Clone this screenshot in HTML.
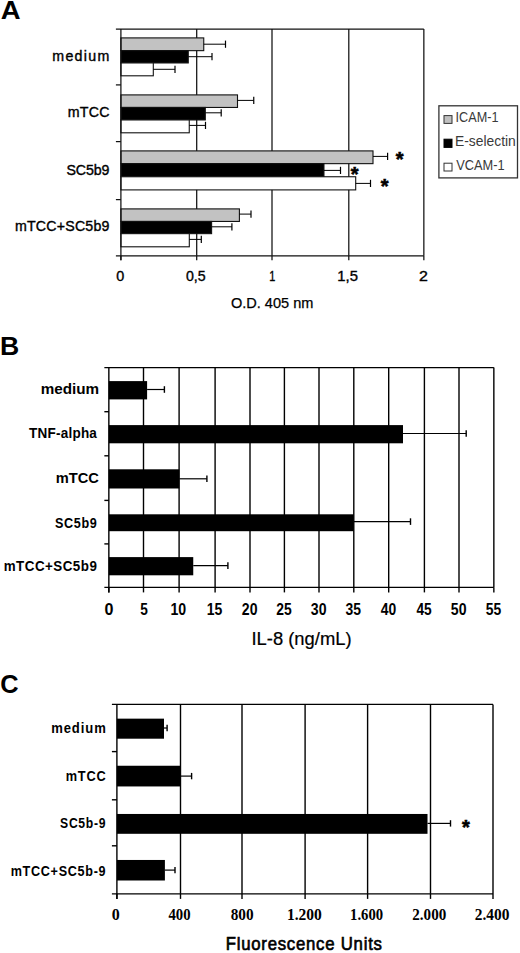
<!DOCTYPE html>
<html><head><meta charset="utf-8"><style>
html,body{margin:0;padding:0;background:#fff;width:520px;height:953px;overflow:hidden;font-family:"Liberation Sans",sans-serif}
svg{display:block}
</style></head><body>
<svg width="520" height="953" viewBox="0 0 520 953">
<rect x="0" y="0" width="520" height="953" fill="#fff"/>
<line x1="196.70" y1="29.00" x2="196.70" y2="255.80" stroke="#111" stroke-width="1.25"/>
<line x1="272.00" y1="29.00" x2="272.00" y2="255.80" stroke="#111" stroke-width="1.25"/>
<line x1="348.80" y1="29.00" x2="348.80" y2="255.80" stroke="#111" stroke-width="1.25"/>
<rect x="120.90" y="37.90" width="82.85" height="12.75" fill="#c2c2c2" stroke="#111" stroke-width="1.1"/>
<line x1="203.75" y1="44.20" x2="225.50" y2="44.20" stroke="#000" stroke-width="1.0"/>
<line x1="225.50" y1="40.60" x2="225.50" y2="47.80" stroke="#000" stroke-width="1.2"/>
<rect x="120.90" y="50.65" width="67.35" height="12.30" fill="#000000" stroke="#111" stroke-width="1.1"/>
<line x1="188.25" y1="56.70" x2="212.00" y2="56.70" stroke="#000" stroke-width="1.0"/>
<line x1="212.00" y1="53.10" x2="212.00" y2="60.30" stroke="#000" stroke-width="1.2"/>
<rect x="120.90" y="62.95" width="32.40" height="12.85" fill="#ffffff" stroke="#111" stroke-width="1.1"/>
<line x1="153.30" y1="69.30" x2="175.00" y2="69.30" stroke="#000" stroke-width="1.0"/>
<line x1="175.00" y1="65.70" x2="175.00" y2="72.90" stroke="#000" stroke-width="1.2"/>
<rect x="120.90" y="94.90" width="116.60" height="12.55" fill="#c2c2c2" stroke="#111" stroke-width="1.1"/>
<line x1="237.50" y1="100.40" x2="253.75" y2="100.40" stroke="#000" stroke-width="1.0"/>
<line x1="253.75" y1="96.80" x2="253.75" y2="104.00" stroke="#000" stroke-width="1.2"/>
<rect x="120.90" y="107.45" width="84.40" height="12.50" fill="#000000" stroke="#111" stroke-width="1.1"/>
<line x1="205.30" y1="112.80" x2="221.20" y2="112.80" stroke="#000" stroke-width="1.0"/>
<line x1="221.20" y1="109.20" x2="221.20" y2="116.40" stroke="#000" stroke-width="1.2"/>
<rect x="120.90" y="119.95" width="68.35" height="12.85" fill="#ffffff" stroke="#111" stroke-width="1.1"/>
<line x1="189.25" y1="125.40" x2="205.50" y2="125.40" stroke="#000" stroke-width="1.0"/>
<line x1="205.50" y1="121.80" x2="205.50" y2="129.00" stroke="#000" stroke-width="1.2"/>
<rect x="120.90" y="150.90" width="252.10" height="12.75" fill="#c2c2c2" stroke="#111" stroke-width="1.1"/>
<line x1="373.00" y1="156.40" x2="387.60" y2="156.40" stroke="#000" stroke-width="1.0"/>
<line x1="387.60" y1="152.80" x2="387.60" y2="160.00" stroke="#000" stroke-width="1.2"/>
<rect x="120.90" y="163.65" width="203.05" height="13.10" fill="#000000" stroke="#111" stroke-width="1.1"/>
<line x1="323.95" y1="170.40" x2="340.50" y2="170.40" stroke="#000" stroke-width="1.0"/>
<line x1="340.50" y1="166.80" x2="340.50" y2="174.00" stroke="#000" stroke-width="1.2"/>
<rect x="120.90" y="176.75" width="234.80" height="13.15" fill="#ffffff" stroke="#111" stroke-width="1.1"/>
<line x1="355.70" y1="183.40" x2="370.50" y2="183.40" stroke="#000" stroke-width="1.0"/>
<line x1="370.50" y1="179.80" x2="370.50" y2="187.00" stroke="#000" stroke-width="1.2"/>
<rect x="120.90" y="208.90" width="118.50" height="12.55" fill="#c2c2c2" stroke="#111" stroke-width="1.1"/>
<line x1="239.40" y1="214.10" x2="251.00" y2="214.10" stroke="#000" stroke-width="1.0"/>
<line x1="251.00" y1="210.50" x2="251.00" y2="217.70" stroke="#000" stroke-width="1.2"/>
<rect x="120.90" y="221.45" width="90.70" height="12.20" fill="#000000" stroke="#111" stroke-width="1.1"/>
<line x1="211.60" y1="226.80" x2="231.90" y2="226.80" stroke="#000" stroke-width="1.0"/>
<line x1="231.90" y1="223.20" x2="231.90" y2="230.40" stroke="#000" stroke-width="1.2"/>
<rect x="120.90" y="233.65" width="68.40" height="13.15" fill="#ffffff" stroke="#111" stroke-width="1.1"/>
<line x1="189.30" y1="239.40" x2="201.30" y2="239.40" stroke="#000" stroke-width="1.0"/>
<line x1="201.30" y1="235.80" x2="201.30" y2="243.00" stroke="#000" stroke-width="1.2"/>
<line x1="115.90" y1="29.00" x2="423.85" y2="29.00" stroke="#111" stroke-width="1.25"/>
<line x1="423.85" y1="29.00" x2="423.85" y2="255.80" stroke="#111" stroke-width="1.25"/>
<line x1="120.90" y1="29.00" x2="120.90" y2="260.30" stroke="#111" stroke-width="1.25"/>
<line x1="115.90" y1="255.80" x2="423.85" y2="255.80" stroke="#111" stroke-width="1.25"/>
<line x1="115.90" y1="84.90" x2="120.90" y2="84.90" stroke="#111" stroke-width="1.25"/>
<line x1="115.90" y1="141.60" x2="120.90" y2="141.60" stroke="#111" stroke-width="1.25"/>
<line x1="115.90" y1="199.60" x2="120.90" y2="199.60" stroke="#111" stroke-width="1.25"/>
<line x1="120.90" y1="255.80" x2="120.90" y2="260.30" stroke="#111" stroke-width="1.25"/>
<line x1="196.70" y1="255.80" x2="196.70" y2="260.30" stroke="#111" stroke-width="1.25"/>
<line x1="272.00" y1="255.80" x2="272.00" y2="260.30" stroke="#111" stroke-width="1.25"/>
<line x1="348.80" y1="255.80" x2="348.80" y2="260.30" stroke="#111" stroke-width="1.25"/>
<line x1="423.85" y1="255.80" x2="423.85" y2="260.30" stroke="#111" stroke-width="1.25"/>
<rect x="438.90" y="105.80" width="78.60" height="72.10" fill="#fff" stroke="#333" stroke-width="1.3"/>
<rect x="444.00" y="115.60" width="8.00" height="7.80" fill="#c0c0c0" stroke="#333" stroke-width="1.0"/>
<rect x="444.00" y="139.20" width="8.00" height="8.20" fill="#000" stroke="#000" stroke-width="1.0"/>
<rect x="444.00" y="163.20" width="8.00" height="7.80" fill="#fff" stroke="#333" stroke-width="1.0"/>
<line x1="143.50" y1="367.60" x2="143.50" y2="587.40" stroke="#000" stroke-width="1.4"/>
<line x1="179.10" y1="367.60" x2="179.10" y2="587.40" stroke="#000" stroke-width="1.4"/>
<line x1="215.10" y1="367.60" x2="215.10" y2="587.40" stroke="#000" stroke-width="1.4"/>
<line x1="250.00" y1="367.60" x2="250.00" y2="587.40" stroke="#000" stroke-width="1.4"/>
<line x1="284.40" y1="367.60" x2="284.40" y2="587.40" stroke="#000" stroke-width="1.4"/>
<line x1="319.00" y1="367.60" x2="319.00" y2="587.40" stroke="#000" stroke-width="1.4"/>
<line x1="353.80" y1="367.60" x2="353.80" y2="587.40" stroke="#000" stroke-width="1.4"/>
<line x1="388.70" y1="367.60" x2="388.70" y2="587.40" stroke="#000" stroke-width="1.4"/>
<line x1="424.40" y1="367.60" x2="424.40" y2="587.40" stroke="#000" stroke-width="1.4"/>
<line x1="459.00" y1="367.60" x2="459.00" y2="587.40" stroke="#000" stroke-width="1.4"/>
<rect x="108.85" y="381.10" width="38.25" height="18.30" fill="#000"/>
<line x1="147.10" y1="389.50" x2="164.40" y2="389.50" stroke="#000" stroke-width="1.2"/>
<line x1="164.40" y1="386.20" x2="164.40" y2="392.80" stroke="#000" stroke-width="1.4"/>
<rect x="108.85" y="425.10" width="294.15" height="18.20" fill="#000"/>
<line x1="403.00" y1="433.50" x2="466.20" y2="433.50" stroke="#000" stroke-width="1.2"/>
<line x1="466.20" y1="430.20" x2="466.20" y2="436.80" stroke="#000" stroke-width="1.4"/>
<rect x="108.85" y="469.30" width="70.45" height="19.20" fill="#000"/>
<line x1="179.30" y1="478.80" x2="206.90" y2="478.80" stroke="#000" stroke-width="1.2"/>
<line x1="206.90" y1="475.50" x2="206.90" y2="482.10" stroke="#000" stroke-width="1.4"/>
<rect x="108.85" y="514.30" width="244.90" height="16.90" fill="#000"/>
<line x1="353.75" y1="521.60" x2="410.50" y2="521.60" stroke="#000" stroke-width="1.2"/>
<line x1="410.50" y1="518.30" x2="410.50" y2="524.90" stroke="#000" stroke-width="1.4"/>
<rect x="108.85" y="557.10" width="84.40" height="18.20" fill="#000"/>
<line x1="193.25" y1="565.60" x2="227.90" y2="565.60" stroke="#000" stroke-width="1.2"/>
<line x1="227.90" y1="562.30" x2="227.90" y2="568.90" stroke="#000" stroke-width="1.4"/>
<line x1="104.35" y1="367.60" x2="493.85" y2="367.60" stroke="#000" stroke-width="1.4"/>
<line x1="493.85" y1="367.60" x2="493.85" y2="587.40" stroke="#000" stroke-width="1.4"/>
<line x1="108.85" y1="367.60" x2="108.85" y2="592.40" stroke="#000" stroke-width="1.4"/>
<line x1="104.35" y1="587.40" x2="493.85" y2="587.40" stroke="#000" stroke-width="1.4"/>
<line x1="104.35" y1="411.70" x2="108.85" y2="411.70" stroke="#000" stroke-width="1.4"/>
<line x1="104.35" y1="455.80" x2="108.85" y2="455.80" stroke="#000" stroke-width="1.4"/>
<line x1="104.35" y1="500.40" x2="108.85" y2="500.40" stroke="#000" stroke-width="1.4"/>
<line x1="104.35" y1="543.90" x2="108.85" y2="543.90" stroke="#000" stroke-width="1.4"/>
<line x1="108.85" y1="587.40" x2="108.85" y2="592.40" stroke="#000" stroke-width="1.4"/>
<line x1="143.50" y1="587.40" x2="143.50" y2="592.40" stroke="#000" stroke-width="1.4"/>
<line x1="179.10" y1="587.40" x2="179.10" y2="592.40" stroke="#000" stroke-width="1.4"/>
<line x1="215.10" y1="587.40" x2="215.10" y2="592.40" stroke="#000" stroke-width="1.4"/>
<line x1="250.00" y1="587.40" x2="250.00" y2="592.40" stroke="#000" stroke-width="1.4"/>
<line x1="284.40" y1="587.40" x2="284.40" y2="592.40" stroke="#000" stroke-width="1.4"/>
<line x1="319.00" y1="587.40" x2="319.00" y2="592.40" stroke="#000" stroke-width="1.4"/>
<line x1="353.80" y1="587.40" x2="353.80" y2="592.40" stroke="#000" stroke-width="1.4"/>
<line x1="388.70" y1="587.40" x2="388.70" y2="592.40" stroke="#000" stroke-width="1.4"/>
<line x1="424.40" y1="587.40" x2="424.40" y2="592.40" stroke="#000" stroke-width="1.4"/>
<line x1="459.00" y1="587.40" x2="459.00" y2="592.40" stroke="#000" stroke-width="1.4"/>
<line x1="493.85" y1="587.40" x2="493.85" y2="592.40" stroke="#000" stroke-width="1.4"/>
<line x1="180.50" y1="704.40" x2="180.50" y2="893.90" stroke="#000" stroke-width="1.4"/>
<line x1="242.00" y1="704.40" x2="242.00" y2="893.90" stroke="#000" stroke-width="1.4"/>
<line x1="305.10" y1="704.40" x2="305.10" y2="893.90" stroke="#000" stroke-width="1.4"/>
<line x1="367.60" y1="704.40" x2="367.60" y2="893.90" stroke="#000" stroke-width="1.4"/>
<line x1="430.50" y1="704.40" x2="430.50" y2="893.90" stroke="#000" stroke-width="1.4"/>
<rect x="116.90" y="718.65" width="47.10" height="20.05" fill="#000"/>
<line x1="164.00" y1="728.00" x2="167.10" y2="728.00" stroke="#000" stroke-width="1.2"/>
<line x1="167.10" y1="724.80" x2="167.10" y2="731.20" stroke="#000" stroke-width="1.4"/>
<rect x="116.90" y="765.75" width="63.50" height="20.70" fill="#000"/>
<line x1="180.40" y1="776.10" x2="191.60" y2="776.10" stroke="#000" stroke-width="1.2"/>
<line x1="191.60" y1="772.90" x2="191.60" y2="779.30" stroke="#000" stroke-width="1.4"/>
<rect x="116.90" y="813.97" width="310.60" height="19.83" fill="#000"/>
<line x1="427.50" y1="823.40" x2="450.50" y2="823.40" stroke="#000" stroke-width="1.2"/>
<line x1="450.50" y1="820.20" x2="450.50" y2="826.60" stroke="#000" stroke-width="1.4"/>
<rect x="116.90" y="859.96" width="48.00" height="20.54" fill="#000"/>
<line x1="164.90" y1="870.10" x2="175.00" y2="870.10" stroke="#000" stroke-width="1.2"/>
<line x1="175.00" y1="866.90" x2="175.00" y2="873.30" stroke="#000" stroke-width="1.4"/>
<line x1="111.90" y1="704.40" x2="493.00" y2="704.40" stroke="#000" stroke-width="1.4"/>
<line x1="493.00" y1="704.40" x2="493.00" y2="893.90" stroke="#000" stroke-width="1.4"/>
<line x1="116.90" y1="704.40" x2="116.90" y2="898.90" stroke="#000" stroke-width="1.4"/>
<line x1="111.90" y1="893.90" x2="493.00" y2="893.90" stroke="#000" stroke-width="1.4"/>
<line x1="111.90" y1="751.60" x2="116.90" y2="751.60" stroke="#000" stroke-width="1.4"/>
<line x1="111.90" y1="799.80" x2="116.90" y2="799.80" stroke="#000" stroke-width="1.4"/>
<line x1="111.90" y1="845.80" x2="116.90" y2="845.80" stroke="#000" stroke-width="1.4"/>
<line x1="116.90" y1="893.90" x2="116.90" y2="898.90" stroke="#000" stroke-width="1.4"/>
<line x1="180.50" y1="893.90" x2="180.50" y2="898.90" stroke="#000" stroke-width="1.4"/>
<line x1="242.00" y1="893.90" x2="242.00" y2="898.90" stroke="#000" stroke-width="1.4"/>
<line x1="305.10" y1="893.90" x2="305.10" y2="898.90" stroke="#000" stroke-width="1.4"/>
<line x1="367.60" y1="893.90" x2="367.60" y2="898.90" stroke="#000" stroke-width="1.4"/>
<line x1="430.50" y1="893.90" x2="430.50" y2="898.90" stroke="#000" stroke-width="1.4"/>
<line x1="493.00" y1="893.90" x2="493.00" y2="898.90" stroke="#000" stroke-width="1.4"/>
<text x="399.60" y="166.00" font-family="Liberation Sans, sans-serif" font-size="20" font-weight="bold" text-anchor="middle" stroke="#000" stroke-width="0.6">*</text>
<text x="354.60" y="180.70" font-family="Liberation Sans, sans-serif" font-size="20" font-weight="bold" text-anchor="middle" stroke="#000" stroke-width="0.6">*</text>
<text x="384.70" y="193.40" font-family="Liberation Sans, sans-serif" font-size="20" font-weight="bold" text-anchor="middle" stroke="#000" stroke-width="0.6">*</text>
<text x="466.00" y="833.70" font-family="Liberation Sans, sans-serif" font-size="20" font-weight="bold" text-anchor="middle" stroke="#000" stroke-width="0.6">*</text>
<text id="t0" x="0.69" y="19.00" font-family="Liberation Sans, sans-serif" font-size="25.5" font-weight="bold" fill="#000" textLength="19.83" lengthAdjust="spacingAndGlyphs">A</text>
<text id="t1" x="52.25" y="61.40" font-family="Liberation Sans, sans-serif" font-size="14.2" font-weight="normal" fill="#000" stroke="#000" stroke-width="0.38" textLength="56.97" lengthAdjust="spacing">medium</text>
<text id="t2" x="67.75" y="117.40" font-family="Liberation Sans, sans-serif" font-size="14.2" font-weight="normal" fill="#000" stroke="#000" stroke-width="0.38" textLength="41.68" lengthAdjust="spacing">mTCC</text>
<text id="t3" x="66.50" y="175.00" font-family="Liberation Sans, sans-serif" font-size="14.2" font-weight="normal" fill="#000" stroke="#000" stroke-width="0.38" textLength="42.89" lengthAdjust="spacing">SC5b9</text>
<text id="t4" x="14.95" y="231.00" font-family="Liberation Sans, sans-serif" font-size="14.2" font-weight="normal" fill="#000" stroke="#000" stroke-width="0.38" textLength="94.46" lengthAdjust="spacing">mTCC+SC5b9</text>
<text id="t5" x="116.19" y="281.00" font-family="Liberation Sans, sans-serif" font-size="14.2" font-weight="normal" fill="#000" stroke="#000" stroke-width="0.35" textLength="8.00" lengthAdjust="spacingAndGlyphs">0</text>
<text id="t6" x="186.00" y="281.00" font-family="Liberation Sans, sans-serif" font-size="14.2" font-weight="normal" fill="#000" stroke="#000" stroke-width="0.35" textLength="19.68" lengthAdjust="spacingAndGlyphs">0,5</text>
<text id="t7" x="269.23" y="281.00" font-family="Liberation Sans, sans-serif" font-size="14.2" font-weight="normal" fill="#000" stroke="#000" stroke-width="0.35" textLength="6.07" lengthAdjust="spacingAndGlyphs">1</text>
<text id="t8" x="337.35" y="281.00" font-family="Liberation Sans, sans-serif" font-size="14.2" font-weight="normal" fill="#000" stroke="#000" stroke-width="0.35" textLength="20.65" lengthAdjust="spacingAndGlyphs">1,5</text>
<text id="t9" x="419.14" y="281.00" font-family="Liberation Sans, sans-serif" font-size="14.2" font-weight="normal" fill="#000" stroke="#000" stroke-width="0.35" textLength="8.88" lengthAdjust="spacingAndGlyphs">2</text>
<text id="t10" x="230.90" y="307.70" font-family="Liberation Sans, sans-serif" font-size="14.5" font-weight="normal" fill="#000" stroke="#000" stroke-width="0.25" textLength="82.46" lengthAdjust="spacingAndGlyphs">O.D. 405 nm</text>
<text id="t11" x="455.59" y="121.60" font-family="Liberation Sans, sans-serif" font-size="14.2" font-weight="normal" fill="#3a3a3a" textLength="42.84" lengthAdjust="spacingAndGlyphs">ICAM-1</text>
<text id="t12" x="454.98" y="145.80" font-family="Liberation Sans, sans-serif" font-size="14.2" font-weight="normal" fill="#3a3a3a" textLength="60.84" lengthAdjust="spacingAndGlyphs">E-selectin</text>
<text id="t13" x="456.20" y="170.00" font-family="Liberation Sans, sans-serif" font-size="14.2" font-weight="normal" fill="#3a3a3a" textLength="48.35" lengthAdjust="spacingAndGlyphs">VCAM-1</text>
<text id="t14" x="0.07" y="355.40" font-family="Liberation Sans, sans-serif" font-size="25.5" font-weight="bold" fill="#000" textLength="19.25" lengthAdjust="spacingAndGlyphs">B</text>
<text id="t15" x="40.70" y="394.00" font-family="Liberation Sans, sans-serif" font-size="15.2" font-weight="bold" fill="#000" textLength="58.39" lengthAdjust="spacingAndGlyphs">medium</text>
<g transform="translate(28.98,438.30) scale(0.89,1)"><text id="t16" x="0" y="0" font-family="Liberation Sans, sans-serif" font-size="15.2" font-weight="bold" fill="#000" textLength="76.32" lengthAdjust="spacing">TNF-alpha</text></g>
<text id="t17" x="55.74" y="482.80" font-family="Liberation Sans, sans-serif" font-size="15.2" font-weight="bold" fill="#000" textLength="43.12" lengthAdjust="spacingAndGlyphs">mTCC</text>
<g transform="translate(54.98,527.70) scale(0.83,1)"><text id="t18" x="0" y="0" font-family="Liberation Sans, sans-serif" font-size="15.2" font-weight="bold" fill="#000" textLength="50.31" lengthAdjust="spacing">SC5b9</text></g>
<g transform="translate(3.77,571.00) scale(0.88,1)"><text id="t19" x="0" y="0" font-family="Liberation Sans, sans-serif" font-size="15.2" font-weight="bold" fill="#000" textLength="105.76" lengthAdjust="spacing">mTCC+SC5b9</text></g>
<text id="t20" x="104.51" y="614.80" font-family="Liberation Sans, sans-serif" font-size="16.3" font-weight="bold" fill="#000" textLength="8.95" lengthAdjust="spacingAndGlyphs">0</text>
<text id="t21" x="140.18" y="614.80" font-family="Liberation Sans, sans-serif" font-size="16.3" font-weight="bold" fill="#000" textLength="7.59" lengthAdjust="spacingAndGlyphs">5</text>
<text id="t22" x="170.38" y="614.80" font-family="Liberation Sans, sans-serif" font-size="16.3" font-weight="bold" fill="#000" textLength="15.76" lengthAdjust="spacingAndGlyphs">10</text>
<text id="t23" x="206.64" y="614.80" font-family="Liberation Sans, sans-serif" font-size="16.3" font-weight="bold" fill="#000" textLength="15.58" lengthAdjust="spacingAndGlyphs">15</text>
<text id="t24" x="241.82" y="614.80" font-family="Liberation Sans, sans-serif" font-size="16.3" font-weight="bold" fill="#000" textLength="15.67" lengthAdjust="spacingAndGlyphs">20</text>
<text id="t25" x="276.22" y="614.80" font-family="Liberation Sans, sans-serif" font-size="16.3" font-weight="bold" fill="#000" textLength="15.45" lengthAdjust="spacingAndGlyphs">25</text>
<text id="t26" x="310.82" y="614.80" font-family="Liberation Sans, sans-serif" font-size="16.3" font-weight="bold" fill="#000" textLength="15.67" lengthAdjust="spacingAndGlyphs">30</text>
<text id="t27" x="345.62" y="614.80" font-family="Liberation Sans, sans-serif" font-size="16.3" font-weight="bold" fill="#000" textLength="15.45" lengthAdjust="spacingAndGlyphs">35</text>
<text id="t28" x="380.74" y="614.80" font-family="Liberation Sans, sans-serif" font-size="16.3" font-weight="bold" fill="#000" textLength="15.45" lengthAdjust="spacingAndGlyphs">40</text>
<text id="t29" x="416.44" y="614.80" font-family="Liberation Sans, sans-serif" font-size="16.3" font-weight="bold" fill="#000" textLength="15.23" lengthAdjust="spacingAndGlyphs">45</text>
<text id="t30" x="450.82" y="614.80" font-family="Liberation Sans, sans-serif" font-size="16.3" font-weight="bold" fill="#000" textLength="15.67" lengthAdjust="spacingAndGlyphs">50</text>
<text id="t31" x="485.67" y="614.80" font-family="Liberation Sans, sans-serif" font-size="16.3" font-weight="bold" fill="#000" textLength="15.45" lengthAdjust="spacingAndGlyphs">55</text>
<text id="t32" x="251.47" y="645.00" font-family="Liberation Sans, sans-serif" font-size="18" font-weight="normal" fill="#000" stroke="#000" stroke-width="0.2" textLength="100.10" lengthAdjust="spacingAndGlyphs">IL-8 (ng/mL)</text>
<text id="t33" x="0.16" y="693.00" font-family="Liberation Sans, sans-serif" font-size="25.5" font-weight="bold" fill="#000" textLength="18.31" lengthAdjust="spacingAndGlyphs">C</text>
<g transform="translate(51.14,733.00) scale(0.86,1)"><text id="t34" x="0" y="0" font-family="Liberation Sans, sans-serif" font-size="15.2" font-weight="bold" fill="#000" textLength="63.50" lengthAdjust="spacing">medium</text></g>
<g transform="translate(65.66,781.00) scale(0.84,1)"><text id="t35" x="0" y="0" font-family="Liberation Sans, sans-serif" font-size="15.2" font-weight="bold" fill="#000" textLength="47.78" lengthAdjust="spacing">mTCC</text></g>
<g transform="translate(60.10,828.40) scale(0.8,1)"><text id="t36" x="0" y="0" font-family="Liberation Sans, sans-serif" font-size="15.2" font-weight="bold" fill="#000" textLength="56.70" lengthAdjust="spacing">SC5b-9</text></g>
<g transform="translate(10.67,875.70) scale(0.83,1)"><text id="t37" x="0" y="0" font-family="Liberation Sans, sans-serif" font-size="15.2" font-weight="bold" fill="#000" textLength="114.32" lengthAdjust="spacing">mTCC+SC5b-9</text></g>
<text id="t38" x="111.81" y="920.30" font-family="Liberation Serif, serif" font-size="16.2" font-weight="bold" fill="#000" textLength="7.98" lengthAdjust="spacingAndGlyphs">0</text>
<text id="t39" x="168.47" y="920.30" font-family="Liberation Serif, serif" font-size="16.2" font-weight="bold" fill="#000" textLength="22.11" lengthAdjust="spacingAndGlyphs">400</text>
<text id="t40" x="230.73" y="920.30" font-family="Liberation Serif, serif" font-size="16.2" font-weight="bold" fill="#000" textLength="22.87" lengthAdjust="spacingAndGlyphs">800</text>
<text id="t41" x="286.90" y="920.30" font-family="Liberation Serif, serif" font-size="16.2" font-weight="bold" fill="#000" textLength="34.94" lengthAdjust="spacingAndGlyphs">1.200</text>
<text id="t42" x="350.12" y="920.30" font-family="Liberation Serif, serif" font-size="16.2" font-weight="bold" fill="#000" textLength="32.99" lengthAdjust="spacingAndGlyphs">1.600</text>
<text id="t43" x="412.30" y="920.30" font-family="Liberation Serif, serif" font-size="16.2" font-weight="bold" fill="#000" textLength="33.92" lengthAdjust="spacingAndGlyphs">2.000</text>
<text id="t44" x="474.69" y="920.30" font-family="Liberation Serif, serif" font-size="16.2" font-weight="bold" fill="#000" textLength="34.65" lengthAdjust="spacingAndGlyphs">2.400</text>
<g transform="translate(225.74,949.60) scale(0.93,1)"><text id="t45" x="0" y="0" font-family="Liberation Sans, sans-serif" font-size="18" font-weight="normal" fill="#000" stroke="#000" stroke-width="0.65" textLength="167.92" lengthAdjust="spacing">Fluorescence Units</text></g>
</svg>
</body></html>
